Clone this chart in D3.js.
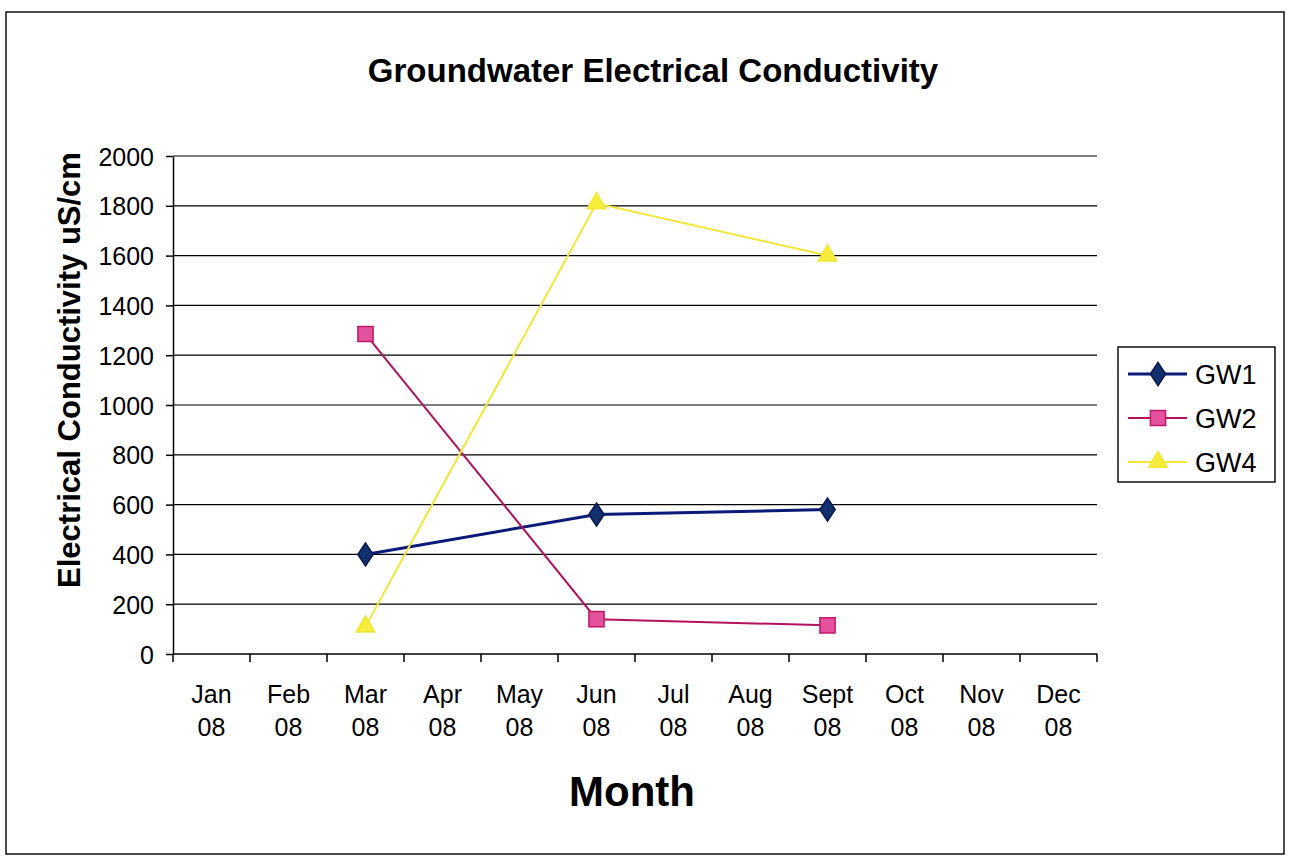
<!DOCTYPE html>
<html>
<head>
<meta charset="utf-8">
<script src="https://cdn.jsdelivr.net/npm/d3@7"></script>
<style>
  body { margin: 0; background: #fff; }
  text { font-family: "Liberation Sans", Arial, sans-serif; fill: #000; }
</style>
</head>
<body>
<div id="my_dataviz"></div>
<script>
// months on the x axis (label split on the space into two lines)
var months = ["Jan 08", "Feb 08", "Mar 08", "Apr 08", "May 08", "Jun 08",
              "Jul 08", "Aug 08", "Sept 08", "Oct 08", "Nov 08", "Dec 08"];
// months that were sampled
var sampleMonths = ["Mar 08", "Jun 08", "Sept 08"];
// readings, uS/cm
var gw1 = [400, 560, 580];
var gw2 = [1285, 140, 115];
var gw4 = [110, 1810, 1600];
var seriesNames = ["GW1", "GW2", "GW4"];
var yTicks = [0, 200, 400, 600, 800, 1000, 1200, 1400, 1600, 1800, 2000];

var W = 1294, H = 861;
var margin = {top: 156, right: 197, bottom: 207, left: 173},
    width = W - margin.left - margin.right,
    height = H - margin.top - margin.bottom;

var svg = d3.select("#my_dataviz")
  .append("svg")
    .attr("width", W)
    .attr("height", H);

// outer chart frame
svg.append("rect")
  .attr("x", 6).attr("y", 12)
  .attr("width", 1278).attr("height", 842)
  .attr("fill", "none").attr("stroke", "#111").attr("stroke-width", 1.5);

var g = svg.append("g")
  .attr("transform", "translate(" + margin.left + "," + margin.top + ")");

var x = d3.scaleBand().domain(months).range([0, width]);
var y = d3.scaleLinear().domain([0, 2000]).range([height, 0]);

// gridlines
g.append("g")
  .selectAll("line")
  .data(yTicks.filter(function(d) { return d > 0; }))
  .enter().append("line")
    .attr("x1", 0).attr("x2", width)
    .attr("y1", function(d) { return y(d); })
    .attr("y2", function(d) { return y(d); })
    .attr("stroke", "#000").attr("stroke-width", 1.2);

// Y axis
var yAxis = g.append("g")
  .call(d3.axisLeft(y).tickValues(yTicks).tickFormat(d3.format("d"))
    .tickSize(7).tickPadding(12).tickSizeOuter(0));
yAxis.selectAll("text").style("font-size", "25px").attr("dy", "0.36em");
yAxis.selectAll("line, path").attr("stroke", "#000").attr("stroke-width", 1.5);

// X axis, ticks between categories
var xAxis = g.append("g").attr("transform", "translate(0," + height + ")");
xAxis.append("line").attr("x1", 0).attr("x2", width)
  .attr("stroke", "#000").attr("stroke-width", 1.5);
xAxis.selectAll(".tk")
  .data(months.concat(["end"]))
  .enter().append("line")
    .attr("x1", function(d, i) { return i * x.step(); })
    .attr("x2", function(d, i) { return i * x.step(); })
    .attr("y1", 0).attr("y2", 8)
    .attr("stroke", "#000").attr("stroke-width", 1.5);
var lab = xAxis.selectAll(".lab")
  .data(months)
  .enter().append("text")
    .attr("text-anchor", "middle")
    .attr("transform", function(d) { return "translate(" + (x(d) + x.bandwidth() / 2) + ",49)"; })
    .style("font-size", "25px");
lab.append("tspan").attr("x", 0).attr("dy", 0).text(function(d) { return d.split(" ")[0]; });
lab.append("tspan").attr("x", 0).attr("dy", 33).text(function(d) { return d.split(" ")[1]; });

// titles
svg.append("text")
  .attr("x", 653).attr("y", 82)
  .attr("text-anchor", "middle")
  .style("font-size", "33px").style("font-weight", "bold")
  .text("Groundwater Electrical Conductivity");

svg.append("text")
  .attr("transform", "translate(80,370) rotate(-90)")
  .attr("text-anchor", "middle")
  .style("font-size", "31px").style("font-weight", "bold")
  .text("Electrical Conductivity uS/cm");

svg.append("text")
  .attr("x", 632).attr("y", 806)
  .attr("text-anchor", "middle")
  .style("font-size", "42px").style("font-weight", "bold")
  .text("Month");

// series
var series = [
  {name: seriesNames[0], values: gw1, stroke: "#0a1a78", fill: "#12306e", mStroke: "#0a1a50", shape: d3.symbolDiamond, size: 150, lw: 3},
  {name: seriesNames[1], values: gw2, stroke: "#b3125c", fill: "#e3529c", mStroke: "#c0186a", shape: d3.symbolSquare, size: 230, lw: 2},
  {name: seriesNames[2], values: gw4, stroke: "#f2e637", fill: "#f7ec3a", mStroke: "#f2e637", shape: d3.symbolTriangle, size: 150, lw: 2}
];

var line = d3.line()
  .x(function(d) { return x(d.m) + x.bandwidth() / 2; })
  .y(function(d) { return y(d.v); });

series.forEach(function(s) {
  var pts = sampleMonths.map(function(m, i) { return {m: m, v: s.values[i]}; });
  g.append("path")
    .datum(pts)
    .attr("d", line)
    .attr("fill", "none")
    .attr("stroke", s.stroke)
    .attr("stroke-width", s.lw);
  g.selectAll(null)
    .data(pts)
    .enter().append("path")
      .attr("d", d3.symbol().type(s.shape).size(s.size))
      .attr("transform", function(d) {
        return "translate(" + (x(d.m) + x.bandwidth() / 2) + "," + y(d.v) + ")" +
          (s.shape === d3.symbolDiamond ? " scale(1.15,1)" : "");
      })
      .attr("fill", s.fill)
      .attr("stroke", s.mStroke)
      .attr("stroke-width", 1.5);
});

// legend
var leg = svg.append("g").attr("transform", "translate(1118,347)");
leg.append("rect")
  .attr("width", 157).attr("height", 135)
  .attr("fill", "#fff").attr("stroke", "#111").attr("stroke-width", 1.5);
series.forEach(function(s, i) {
  var ly = 27 + i * 44;
  leg.append("line")
    .attr("x1", 10).attr("x2", 69).attr("y1", ly).attr("y2", ly)
    .attr("stroke", s.stroke).attr("stroke-width", s.lw);
  leg.append("path")
    .attr("d", d3.symbol().type(s.shape).size(s.size))
    .attr("transform", "translate(40," + ly + ")" + (s.shape === d3.symbolDiamond ? " scale(1.15,1)" : ""))
    .attr("fill", s.fill).attr("stroke", s.mStroke).attr("stroke-width", 1.5);
  leg.append("text")
    .attr("x", 77).attr("y", ly + 10)
    .style("font-size", "27px")
    .text(s.name);
});
</script>
</body>
</html>
